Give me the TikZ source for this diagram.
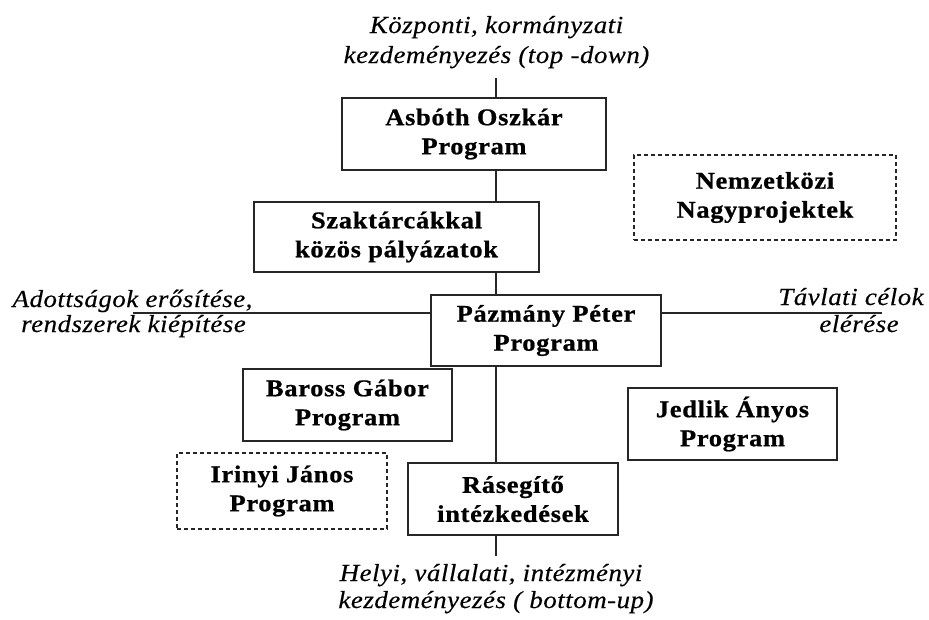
\documentclass[tikz,border=0pt]{standalone}
\usepackage{fontspec}
\setmainfont{Liberation Serif}
\newfontfamily\boxfont[FakeStretch=1.1,LetterSpace=3,FakeBold=0.8]{Liberation Serif}
\newfontfamily\labfont[FakeStretch=1.1,LetterSpace=2,FakeBold=0.3]{Liberation Serif}
\begin{document}
\begin{tikzpicture}[x=1pt,y=-1pt,
  box/.style={draw=black!85, line width=1.1pt, inner sep=0pt, align=center,
    font=\boxfont\bfseries\fontsize{24}{29}\selectfont},
  dbox/.style={box, dash pattern=on 4pt off 3pt},
  lab/.style={inner sep=0pt, anchor=base, font=\labfont\itshape\fontsize{24.5}{30}\selectfont},
  conn/.style={draw=black!85, line width=1.1pt}]
\useasboundingbox (0,0) rectangle (929,619);
% boxes
\node[box, minimum width=264pt, minimum height=72pt] (asboth) at (474,134) {Asbóth Oszkár\\Program};
\node[box, minimum width=285pt, minimum height=70pt] (szak) at (396.5,237) {Szaktárcákkal\\közös pályázatok};
\node[box, minimum width=230pt, minimum height=71pt] (pazmany) at (546,330.5) {Pázmány Péter\\Program};
\node[box, minimum width=209pt, minimum height=72pt] (baross) at (347.5,405) {Baross Gábor\\Program};
\node[dbox, minimum width=210pt, minimum height=76pt] (irinyi) at (282,491) {Irinyi János\\Program};
\node[box, minimum width=210pt, minimum height=72pt] (rase) at (513,499) {Rásegítő\\intézkedések};
\node[dbox, minimum width=262pt, minimum height=85pt] (nemz) at (765,197.5) {Nemzetközi\\Nagyprojektek};
\node[box, minimum width=209pt, minimum height=72pt] (jedlik) at (732.5,424) {Jedlik Ányos\\Program};
% labels
\node[lab] (top1) at (496.5,33) {Központi, kormányzati};
\node[lab] (top2) at (496.5,63) {kezdeményezés (top -down)};
\node[lab] (left1) at (132.5,307) {Adottságok erősítése,};
\node[lab] (left2) at (133.5,332) {rendszerek kiépítése};
\node[lab] (right1) at (851,305) {Távlati célok};
\node[lab] (right2) at (859,332) {elérése};
\node[lab] (bot1) at (491,581) {Helyi, vállalati, intézményi};
\node[lab] (bot2) at (496,608) {kezdeményezés ( bottom-up)};
% spine coordinates
\coordinate (vtop) at (496,78);
\coordinate (vbot) at (496,556);
\coordinate (hl) at (133,313);
\coordinate (hr) at (882,313);
% connectors
\draw[conn] (vtop) -- (vtop |- asboth.north);
\draw[conn] (asboth.south -| vtop) -- (szak.north -| vtop);
\draw[conn] (szak.south -| vtop) -- (pazmany.north -| vtop);
\draw[conn] (pazmany.south -| vtop) -- (rase.north -| vtop);
\draw[conn] (rase.south -| vtop) -- (vbot);
\draw[conn] (hl) -- (hl -| pazmany.west);
\draw[conn] (pazmany.east |- hr) -- (hr);
\end{tikzpicture}
\end{document}
